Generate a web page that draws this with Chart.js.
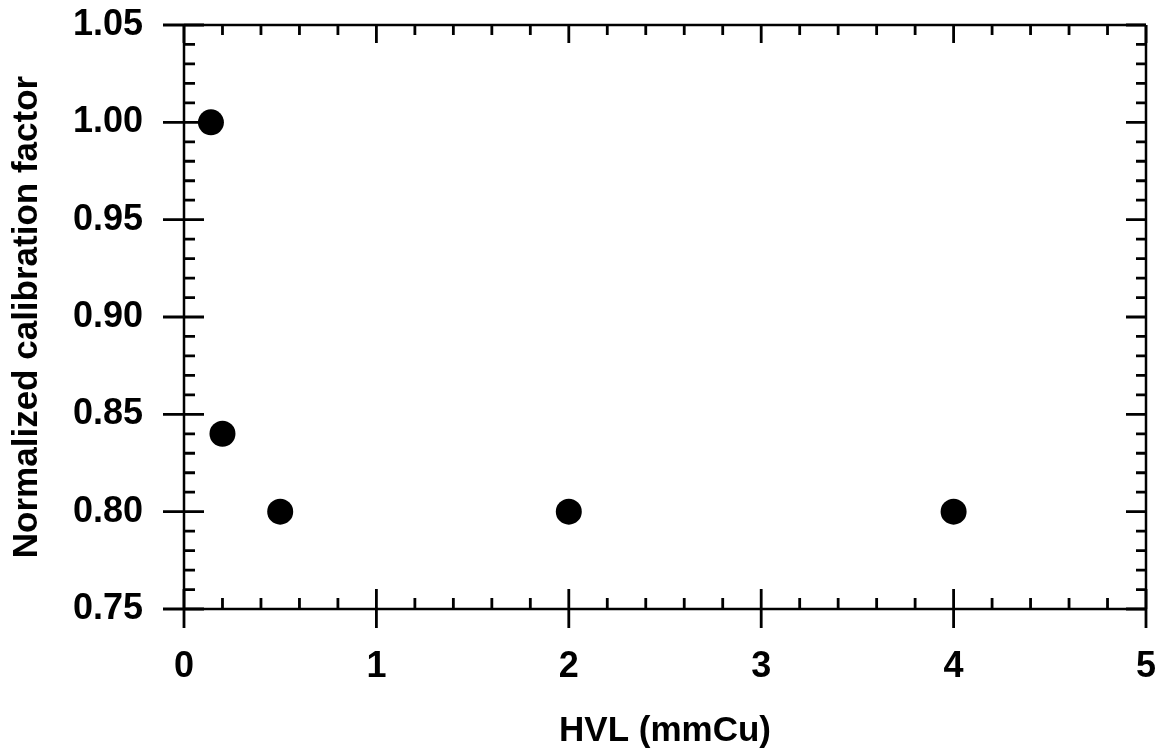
<!DOCTYPE html>
<html>
<head>
<meta charset="utf-8">
<script src="https://cdn.jsdelivr.net/npm/chart.js@4.4.1/dist/chart.umd.min.js"></script>
<style>
  html, body { margin: 0; padding: 0; background: #fff; }
  #wrap { width: 1163px; height: 749px; }
</style>
</head>
<body>
<div id="wrap"><canvas id="chart" width="1163" height="749"></canvas></div>
<script>
// data
var hvl = [0.14, 0.20, 0.50, 2.0, 4.0];
var calFactor = [1.00, 0.84, 0.80, 0.80, 0.80];

// axis setup
var xRange = [0, 5];
var yRange = [0.75, 1.05];
var xMajorStep = 1, xMinorStep = 0.2;
var yMajorStep = 0.05, yMinorStep = 0.01;

var fontFamily = '"Liberation Sans", Arial, Helvetica, sans-serif';
var ink = '#000';

// frame + inward tick marks, positioned through the chart's own scales
var frameTicks = {
    id: 'frameTicks',
    afterDraw: function (chart) {
        var ctx = chart.ctx;
        var xs = chart.scales.x, ys = chart.scales.y;
        var a = chart.chartArea;
        ctx.save();
        ctx.strokeStyle = ink;
        ctx.lineCap = 'butt';

        // box
        ctx.lineWidth = 2.5;
        ctx.beginPath();
        ctx.moveTo(a.left, a.top); ctx.lineTo(a.right, a.top);
        ctx.moveTo(a.left, a.bottom); ctx.lineTo(a.right, a.bottom);
        ctx.moveTo(a.left, a.top); ctx.lineTo(a.left, a.bottom);
        ctx.moveTo(a.right, a.top); ctx.lineTo(a.right, a.bottom);
        ctx.stroke();

        ctx.lineWidth = 2.8;
        ctx.beginPath();
        // x ticks
        var n = Math.round((xRange[1] - xRange[0]) / xMinorStep);
        for (var i = 0; i <= n; i++) {
            var v = xRange[0] + i * xMinorStep;
            var px = xs.getPixelForValue(v);
            var major = Math.abs(v / xMajorStep - Math.round(v / xMajorStep)) < 1e-6;
            if (major) {
                ctx.moveTo(px, a.bottom - 20); ctx.lineTo(px, a.bottom + 19);
                ctx.moveTo(px, a.top); ctx.lineTo(px, a.top + 18);
            } else {
                ctx.moveTo(px, a.bottom - 11); ctx.lineTo(px, a.bottom);
                ctx.moveTo(px, a.top); ctx.lineTo(px, a.top + 10);
            }
        }
        // y ticks
        var m = Math.round((yRange[1] - yRange[0]) / yMinorStep);
        for (var j = 0; j <= m; j++) {
            var w = yRange[0] + j * yMinorStep;
            var py = ys.getPixelForValue(w);
            var k = (w - yRange[0]) / yMajorStep;
            var ymaj = Math.abs(k - Math.round(k)) < 1e-6;
            if (ymaj) {
                ctx.moveTo(a.left - 21, py); ctx.lineTo(a.left + 20, py);
                ctx.moveTo(a.right - 20, py); ctx.lineTo(a.right, py);
            } else {
                ctx.moveTo(a.left, py); ctx.lineTo(a.left + 11, py);
                ctx.moveTo(a.right - 10, py); ctx.lineTo(a.right, py);
            }
        }
        ctx.stroke();
        ctx.restore();
    }
};

new Chart(document.getElementById('chart'), {
    type: 'scatter',
    data: {
        datasets: [{
            data: hvl.map(function (x, i) { return { x: x, y: calFactor[i] }; }),
            backgroundColor: ink,
            borderWidth: 0,
            pointRadius: 13,
            pointHoverRadius: 13,
            showLine: false
        }]
    },
    options: {
        responsive: false,
        animation: false,
        events: [],
        layout: {
            padding: { top: 25, right: 17, bottom: 0, left: 0 }
        },
        plugins: {
            legend: { display: false },
            tooltip: { enabled: false }
        },
        scales: {
            x: {
                type: 'linear',
                min: xRange[0],
                max: xRange[1],
                grid: { display: false, drawTicks: false },
                border: { display: false },
                ticks: {
                    stepSize: xMajorStep,
                    color: ink,
                    padding: 36,
                    maxRotation: 0,
                    font: { family: fontFamily, size: 36, weight: 'bold' },
                    callback: function (v) { return v; }
                },
                title: {
                    display: true,
                    text: 'HVL (mmCu)',
                    color: ink,
                    padding: { top: 0, bottom: 0 },
                    font: { family: fontFamily, size: 35, weight: 'bold', lineHeight: 1 }
                },
                afterFit: function (s) {
                    s.height = 140;
                    s.paddingLeft = 0;
                    s.paddingRight = 0;
                }
            },
            y: {
                type: 'linear',
                min: yRange[0],
                max: yRange[1],
                grid: { display: false, drawTicks: false },
                border: { display: false },
                ticks: {
                    stepSize: yMajorStep,
                    color: ink,
                    padding: 41,
                    font: { family: fontFamily, size: 36, weight: 'bold' },
                    callback: function (v) { return v.toFixed(2); }
                },
                title: {
                    display: true,
                    text: 'Normalized calibration factor',
                    color: ink,
                    padding: { top: 10, bottom: 0 },
                    font: { family: fontFamily, size: 35, weight: 'bold', lineHeight: 1 }
                },
                afterFit: function (s) {
                    s.width = 184;
                    s.paddingTop = 0;
                    s.paddingBottom = 0;
                }
            }
        }
    },
    plugins: [frameTicks]
});
</script>
</body>
</html>
